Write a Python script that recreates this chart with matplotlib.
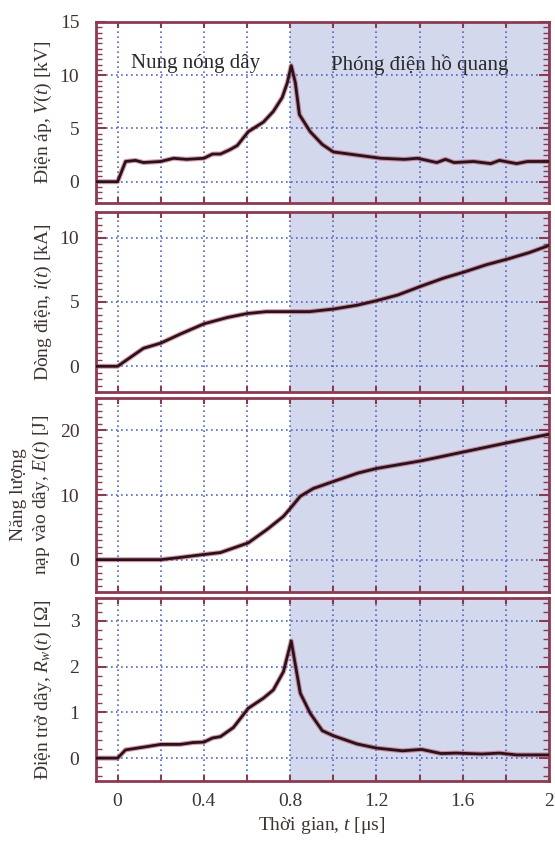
import matplotlib
matplotlib.use("Agg")
import matplotlib.pyplot as plt
from matplotlib.ticker import MultipleLocator

plt.rcParams['font.family'] = ['Liberation Serif', 'DejaVu Serif']
plt.rcParams['mathtext.fontset'] = 'custom'
plt.rcParams['mathtext.rm'] = 'Liberation Serif'
plt.rcParams['mathtext.it'] = 'Liberation Serif:italic'

# --- data ---
t_v = [-0.1, 0, 0.037, 0.083, 0.12, 0.2, 0.26, 0.32, 0.4, 0.44, 0.477, 0.52, 0.555, 0.606,
       0.676, 0.722, 0.763, 0.787, 0.805, 0.824, 0.843, 0.893, 0.949, 1.0, 1.11, 1.22,
       1.33, 1.39, 1.48, 1.52, 1.56, 1.65, 1.73, 1.77, 1.85, 1.9, 2.0]
v = [0, 0, 1.9, 2.0, 1.8, 1.9, 2.2, 2.1, 2.2, 2.6, 2.6, 3.0, 3.4, 4.7,
     5.6, 6.6, 7.9, 9.3, 10.9, 9.3, 6.3, 4.7, 3.5, 2.8, 2.5, 2.2,
     2.1, 2.2, 1.8, 2.1, 1.8, 1.9, 1.7, 2.0, 1.7, 1.9, 1.9]

t_i = [-0.1, 0, 0.06, 0.12, 0.2, 0.29, 0.4, 0.51, 0.6, 0.69, 0.8, 0.89, 1.0, 1.11,
       1.2, 1.3, 1.41, 1.51, 1.61, 1.71, 1.81, 1.91, 2.0]
cur = [0, 0, 0.7, 1.4, 1.8, 2.5, 3.3, 3.8, 4.1, 4.25, 4.25, 4.25, 4.45, 4.75,
       5.1, 5.55, 6.25, 6.85, 7.35, 7.9, 8.35, 8.85, 9.4]

t_e = [-0.1, 0, 0.2, 0.28, 0.4, 0.477, 0.606, 0.694, 0.769, 0.81, 0.847, 0.907, 1.01,
       1.115, 1.2, 1.41, 1.61, 1.81, 2.0]
energy = [0, 0, 0, 0.3, 0.8, 1.1, 2.6, 4.7, 6.7, 8.3, 9.8, 11.0, 12.2,
          13.4, 14.1, 15.3, 16.7, 18.1, 19.4]

t_r = [-0.1, 0, 0.037, 0.12, 0.2, 0.29, 0.35, 0.4, 0.44, 0.477, 0.537, 0.606, 0.676,
       0.722, 0.769, 0.805, 0.847, 0.893, 0.949, 1.0, 1.11, 1.2, 1.32, 1.41, 1.5, 1.57,
       1.69, 1.77, 1.85, 2.0]
res = [0, 0, 0.18, 0.24, 0.3, 0.3, 0.34, 0.35, 0.44, 0.47, 0.67, 1.09, 1.31,
       1.49, 1.89, 2.56, 1.42, 0.98, 0.6, 0.49, 0.31, 0.22, 0.16, 0.19, 0.1, 0.11,
       0.09, 0.11, 0.07, 0.07]

ylabels = [r"Điện áp, $V(t)$ [kV]",
           r"Dòng điện, $i(t)$ [kA]",
           "Năng lượng\n" + r"nạp vào dây, $E(t)$ [J]",
           r"Điện trở dây, $R_w(t)$ [Ω]"]
ylims = [(-2, 15), (-2, 12), (-5, 25), (-0.5, 3.5)]
yticks = [[0, 5, 10, 15], [0, 5, 10], [0, 10, 20], [0, 1, 2, 3]]
yminor = [0.5, 0.5, 1, 0.2]
xtick_vals = [0, 0.4, 0.8, 1.2, 1.6, 2]
xtick_labels = ["0", "0.4", "0.8", "1.2", "1.6", "2"]

series = [(t_v, v), (t_i, cur), (t_e, energy), (t_r, res)]

# panel boxes in pixels (top, bottom)
W, H = 555, 841
boxes = [(22, 203), (212, 392), (398, 592), (598, 781)]
left_px, right_px = 96, 549

spine_col = "#8c3a52"
grid_col = "#5266c4"
shade_col = "#d4d8ed"
text_col = "#3e3330"

fig = plt.figure(figsize=(W / 100, H / 100), dpi=100)

grid_x = [0.2 * i for i in range(11)]
axes = []
for k, (top, bot) in enumerate(boxes):
    ax = fig.add_axes([left_px / W, 1 - bot / H, (right_px - left_px) / W, (bot - top) / H])
    axes.append(ax)
    ax.axvspan(0.8, 2.0, color=shade_col, zorder=0, lw=0)
    ax.set_xlim(-0.1, 2.0)
    ax.set_ylim(*ylims[k])
    ax.set_yticks(yticks[k])
    ax.yaxis.set_minor_locator(MultipleLocator(yminor[k]))
    ax.set_xticks(grid_x)
    ax.grid(True, which="major", color=grid_col, linestyle=(0, (1.0, 2.0)), linewidth=1.2)
    ax.set_axisbelow(True)

    tx, ty = series[k]
    ax.plot(tx, ty, color="#b34c66", lw=3.6, alpha=0.55, solid_joinstyle="round", zorder=3)
    ax.plot(tx, ty, color="#2b1218", lw=2.0, solid_joinstyle="round", zorder=4)

    for s in ax.spines.values():
        s.set_color(spine_col)
        s.set_linewidth(2.0)
    ax.tick_params(axis="both", which="both", direction="in", color=spine_col,
                   top=True, right=True, labelcolor=text_col, labelsize=14)
    ax.tick_params(axis="y", which="major", length=7, width=1.5, pad=12)
    ax.tick_params(axis="y", which="minor", length=4, width=1.0)
    ax.tick_params(axis="x", which="major", length=4, width=1.5)
    ax.tick_params(axis="x", which="minor", length=0)
    if k < 3:
        ax.tick_params(axis="x", labelbottom=False)
    else:
        ax.set_xticklabels([xtick_labels[xtick_vals.index(round(g, 1))]
                            if round(g, 1) in xtick_vals else "" for g in grid_x])
        ax.tick_params(axis="x", pad=9)
    yc = 1 - (top + bot) / 2 / H
    if k == 2:
        fig.text(31 / W, yc, ylabels[k], rotation=90, ha="center", va="center",
                 fontsize=14, color=text_col, linespacing=1.2, multialignment="center")
    else:
        fig.text(43 / W, yc, ylabels[k], rotation=90, ha="center", va="center",
                 fontsize=14, color=text_col)

axes[0].text(0.36, 11.1, "Nung nóng dây", ha="center", va="center", fontsize=15, color="#2a2a2a")
axes[0].text(1.40, 11.0, "Phóng điện hồ quang", ha="center", va="center", fontsize=15, color="#2a2a2a")

fig.text(322 / W, 1 - 826 / H, r"Thời gian, $t$ [μs]", ha="center", va="center",
         fontsize=14, color=text_col)

fig.savefig("out.png", dpi=100)
